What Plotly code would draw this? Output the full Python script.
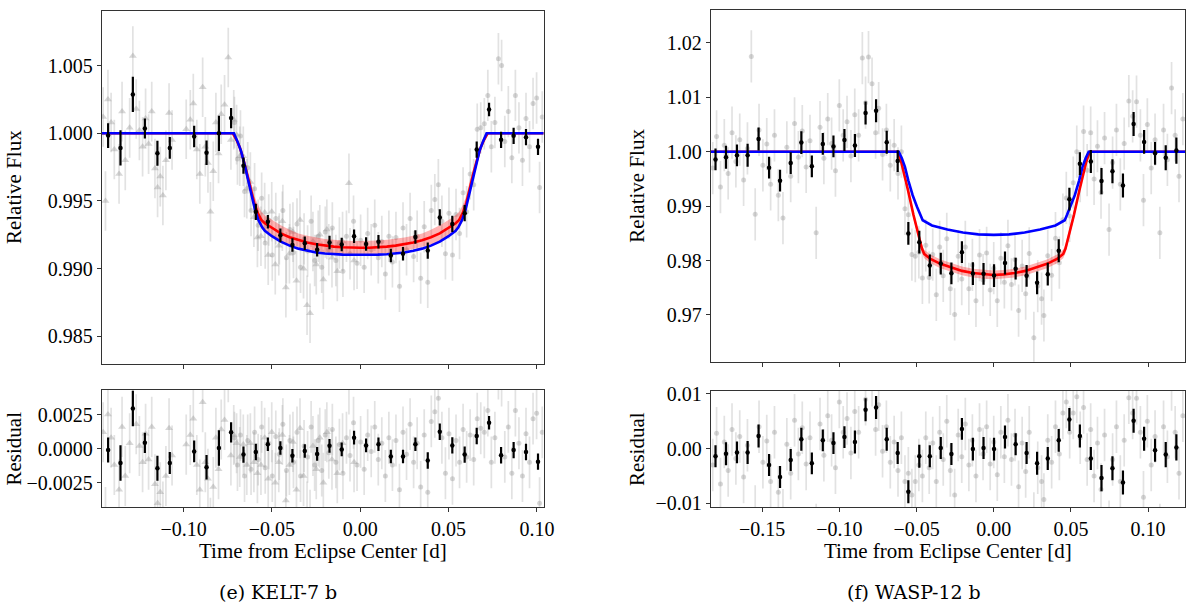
import numpy as np
import plotly.graph_objects as go

# ---------------- KELT-7 b (left) ----------------
# binned points
k7_x = [-0.1427, -0.1357, -0.1287, -0.1219, -0.1148, -0.1078, -0.0940, -0.0870, -0.0800, -0.0731,
        -0.0661, -0.0591, -0.0523, -0.0452, -0.0384, -0.0314, -0.0244, -0.0174, -0.0105, -0.0035,
        0.0033, 0.0103, 0.0173, 0.0242, 0.0312, 0.0382, 0.0450, 0.0521, 0.0591, 0.0659,
        0.0729, 0.0797, 0.0868, 0.0938, 0.1006]
k7_flux = [0.99983, 0.99892, 1.00287, 1.00036, 0.99852, 0.99892, 0.99976, 0.99856, 1.00000, 1.00112,
           0.99761, 0.99420, 0.99347, 0.99246, 0.99175, 0.99187, 0.99139, 0.99194, 0.99179, 0.99239,
           0.99182, 0.99199, 0.99098, 0.99110, 0.99234, 0.99134, 0.99378, 0.99330, 0.99410, 0.99880,
           1.00175, 0.99952, 0.99981, 0.99971, 0.99900]
k7_resid = [-0.00010, -0.00105, 0.00295, 0.00043, -0.00143, -0.00105, -0.00020, -0.00136, 0.00005, 0.00120,
            -0.00043, -0.00024, 0.00033, 0.00005, -0.00052, -0.00017, -0.00038, 0.00021, -0.00005, 0.00081,
            0.00024, 0.00033, -0.00057, -0.00057, 0.00033, -0.00086, 0.00124, 0.00024, -0.00043, 0.00093,
            0.00190, -0.00048, -0.00010, -0.00024, -0.00095]
k7_err = [0.00092, 0.00130, 0.00130, 0.00074, 0.00092, 0.00080, 0.00080, 0.00090, 0.00130, 0.00074,
          0.00060, 0.00060, 0.00050, 0.00050, 0.00050, 0.00050, 0.00050, 0.00050, 0.00050, 0.00050,
          0.00050, 0.00050, 0.00050, 0.00050, 0.00050, 0.00060, 0.00060, 0.00060, 0.00060, 0.00060,
          0.00050, 0.00060, 0.00060, 0.00060, 0.00060]

# unbinned points, first visit (triangles)
k7_tri_x = [-0.1455, -0.1442, -0.1428, -0.1410, -0.1392, -0.1365, -0.1348, -0.1330, -0.1305, -0.1287,
            -0.1268, -0.1250, -0.1232, -0.1215, -0.1198, -0.1180, -0.1162, -0.1147, -0.1132, -0.1117,
            -0.1100, -0.1082, -0.1065, -0.0985, -0.0962, -0.0945, -0.0925, -0.0908, -0.0892, -0.0877,
            -0.0862, -0.0848, -0.0832, -0.0817, -0.0802, -0.0787, -0.0768, -0.0747, -0.0732, -0.0716,
            -0.0700, -0.0682, -0.0662, -0.0642, -0.0622, -0.0602, -0.0582, -0.0562, -0.0541, -0.0521,
            -0.0501, -0.0481, -0.0461, -0.0441, -0.0421, -0.0401, -0.0381, -0.0361, -0.0341, -0.0321,
            -0.0301, -0.0284, -0.0268, -0.0249, -0.0229, -0.0209, -0.0189, -0.0160, -0.0130, -0.0100,
            -0.0064, -0.0035]
k7_tri_flux = [1.0012, 0.9950, 1.0025, 1.0008, 0.9988, 0.9970, 1.0016, 0.9980, 1.0004, 1.0057,
               1.0018, 1.0002, 0.9990, 1.0011, 0.9992, 1.0016, 0.9974, 0.9960, 0.9968, 0.9954,
               0.9980, 1.0015, 0.9995, 1.0003, 1.0010, 1.0022, 0.9988, 0.9970, 1.0034, 0.9990,
               0.9978, 0.9942, 0.9972, 1.0008, 0.9985, 1.0014, 1.0021, 1.0056, 0.9995, 1.0010,
               0.9999, 0.9983, 0.9983, 0.9959, 0.9964, 0.9938, 0.9923, 0.9924, 0.99415, 0.9910,
               0.9942, 0.9903, 0.9917, 0.9935, 0.9886, 0.9911, 0.9927, 0.9891, 0.9936, 0.9900,
               0.9873, 0.9867, 0.9920, 0.9903, 0.9925, 0.9892, 0.9929, 0.9908, 0.9898, 0.9920,
               0.9963, 0.9906]
k7_tri_resid = [0.0012, -0.0050, 0.0025, 0.0008, -0.0012, -0.0030, 0.0016, -0.0020, 0.0004, 0.0057,
                0.0018, 0.0002, -0.0010, 0.0011, -0.0008, 0.0016, -0.0026, -0.0040, -0.0032, -0.0046,
                -0.0020, 0.0015, -0.0005, 0.0003, 0.0010, 0.0022, -0.0012, -0.0030, 0.0034, -0.0010,
                -0.0022, -0.0058, -0.0028, 0.0008, -0.0015, 0.0014, 0.0021, 0.0056, -0.0005, 0.0010,
                0.0004, -0.0006, 0.0003, -0.0012, 0.0004, -0.0010, -0.0018, -0.0012, 0.0008, -0.0022,
                0.0012, -0.0025, -0.0010, 0.0010, -0.0038, -0.0012, 0.0005, -0.0030, 0.0015, -0.0020,
                -0.0046, -0.0052, 0.0002, -0.0015, 0.0008, -0.0025, 0.0012, -0.0008, -0.0018, 0.0004,
                0.0047, -0.0010]
k7_tri_err = 0.0022

# unbinned points, second visit (circles)
k7_cir_x = [-0.0712, -0.0695, -0.0678, -0.0655, -0.0637, -0.0618, -0.0598, -0.0578, -0.0558, -0.0538,
            -0.0518, -0.0498, -0.0478, -0.0458, -0.0438, -0.0418, -0.0398, -0.0378, -0.0358, -0.0338,
            -0.0318, -0.0298, -0.0278, -0.0258, -0.0238, -0.0218, -0.0198, -0.0178, -0.0158, -0.0138,
            -0.0118, -0.0098, -0.0078, -0.0058, -0.0038, -0.0018, 0.0002, 0.0022, 0.0042, 0.0062,
            0.0082, 0.0102, 0.0122, 0.0142, 0.0162, 0.0182, 0.0202, 0.0222, 0.0242, 0.0262,
            0.0282, 0.0302, 0.0322, 0.0342, 0.0362, 0.0382, 0.0402, 0.0422, 0.0442, 0.0462,
            0.0482, 0.0502, 0.0522, 0.0542, 0.0562, 0.0582, 0.0602, 0.0622, 0.0642, 0.0662,
            0.0682, 0.0702, 0.0722, 0.0742, 0.0762, 0.0782, 0.0800, 0.0818, 0.0838, 0.0858,
            0.0878, 0.0898, 0.0918, 0.0938, 0.0958, 0.0978, 0.0998, 0.1015, 0.1030]
k7_cir_flux = [1.0008, 0.9981, 0.9998, 0.9957, 0.99745, 0.9943, 0.9959, 0.9932, 0.9952, 0.9919,
               0.9936, 0.9910, 0.9937, 0.9922, 0.9943, 0.9908, 0.9929, 0.9912, 0.9933, 0.9901,
               0.9922, 0.9913, 0.9935, 0.9906, 0.9924, 0.9901, 0.9927, 0.9914, 0.9930, 0.9906,
               0.9919, 0.9898, 0.9924, 0.9911, 0.9935, 0.9904, 0.9921, 0.9901, 0.9926, 0.9914,
               0.9932, 0.9908, 0.9920, 0.9896, 0.9924, 0.9905, 0.9923, 0.9887, 0.9930, 0.9914,
               0.9937, 0.9909, 0.9924, 0.9893, 0.9931, 0.9890, 0.9943, 0.9951, 0.9962, 0.9935,
               0.9911, 0.9941, 0.9910, 0.9940, 0.9926, 0.9956, 0.9942, 0.9970, 0.9962, 1.0003,
               1.0004, 1.0007, 1.0028, 0.9990, 1.0008, 1.0055, 1.0050, 0.9994, 1.0016, 0.9982,
               1.0028, 1.0004, 0.9980, 1.0011, 0.9990, 1.0022, 1.0026, 0.9960, 1.0012]
k7_cir_resid = [0.0008, -0.0012, 0.0010, -0.0020, 0.0006, -0.0015, 0.0012, -0.0008, 0.0016, -0.0014,
                0.0004, -0.0020, 0.0009, -0.0004, 0.0018, -0.0016, 0.0006, -0.0010, 0.0012, -0.0020,
                0.0002, -0.0006, 0.0016, -0.0012, 0.0006, -0.0016, 0.0010, -0.0003, 0.0014, -0.0010,
                0.0003, -0.0018, 0.0008, -0.0005, 0.0019, -0.0012, 0.0005, -0.0015, 0.0010, -0.0002,
                0.0016, -0.0008, 0.0004, -0.0020, 0.0008, -0.0012, 0.0006, -0.0030, 0.0012, -0.0004,
                0.0018, -0.0010, 0.0004, -0.0028, 0.0010, -0.0032, 0.0020, 0.0027, 0.0037, 0.0008,
                -0.0018, 0.0011, -0.0022, 0.0006, -0.0010, 0.0014, -0.0006, 0.0010, -0.0008, 0.0022,
                0.0015, 0.0012, 0.0028, -0.0010, 0.0008, 0.0055, 0.0050, -0.0006, 0.0016, -0.0018,
                0.0028, 0.0004, -0.0020, 0.0011, -0.0010, 0.0022, 0.0026, -0.0040, 0.0012]
k7_cir_err = 0.0019

# transit models
k7_red_x = [-0.1463, -0.0721, -0.0700, -0.0680, -0.0660, -0.0640, -0.0620, -0.0600, -0.0580, -0.0560,
            -0.0540, -0.0500, -0.0450, -0.0400, -0.0350, -0.0300, -0.0250, -0.0200, -0.0150, -0.0100,
            -0.0050, 0.0000, 0.0050, 0.0100, 0.0150, 0.0200, 0.0250, 0.0300, 0.0350, 0.0400,
            0.0450, 0.0500, 0.0540, 0.0560, 0.0580, 0.0600, 0.0620, 0.0640, 0.0660, 0.0680,
            0.0700, 0.0721, 0.1038]
k7_red_y = [1.0, 1.0, 0.9995, 0.9989, 0.9980, 0.9970, 0.9960, 0.99484, 0.9941, 0.9936,
            0.99335, 0.9930, 0.9926, 0.99232, 0.9921, 0.99193, 0.9918, 0.9917, 0.99163, 0.99158,
            0.99155, 0.99154, 0.99155, 0.99158, 0.99163, 0.9917, 0.9918, 0.99193, 0.9921, 0.99232,
            0.9926, 0.9930, 0.99335, 0.9936, 0.9941, 0.99484, 0.9960, 0.9970, 0.9980, 0.9989,
            0.9995, 1.0, 1.0]
k7_red_w = [0, 0, 0.0001, 0.0002, 0.0003, 0.0004, 0.0005, 0.0005, 0.0006, 0.0006,
            0.0006, 0.0006, 0.0006, 0.00055, 0.0005, 0.0005, 0.0005, 0.0005, 0.0005, 0.0005,
            0.0005, 0.0005, 0.0005, 0.0005, 0.0005, 0.0005, 0.0005, 0.0005, 0.0005, 0.00055,
            0.0006, 0.0006, 0.0006, 0.0006, 0.0006, 0.0005, 0.0005, 0.0004, 0.0003, 0.0002,
            0.0001, 0, 0]
k7_blue_x = [-0.1463, -0.0715, -0.0695, -0.0675, -0.0655, -0.0635, -0.0615, -0.0595, -0.0575, -0.0555,
             -0.0540, -0.0500, -0.0450, -0.0400, -0.0350, -0.0300, -0.0250, -0.0200, -0.0150, -0.0100,
             -0.0050, 0.0000, 0.0050, 0.0100, 0.0150, 0.0200, 0.0250, 0.0300, 0.0350, 0.0400,
             0.0450, 0.0500, 0.0540, 0.0555, 0.0575, 0.0595, 0.0615, 0.0635, 0.0655, 0.0675,
             0.0695, 0.0715, 0.1038]
k7_blue_y = [1.0, 1.0, 0.9994, 0.9987, 0.9977, 0.9966, 0.9954, 0.9943, 0.99355, 0.99305,
             0.99280, 0.99240, 0.99200, 0.99170, 0.99148, 0.99132, 0.99120, 0.99112, 0.99107, 0.99104,
             0.99103, 0.99102, 0.99103, 0.99104, 0.99107, 0.99112, 0.99120, 0.99132, 0.99148, 0.99170,
             0.99200, 0.99240, 0.99280, 0.99305, 0.99355, 0.9943, 0.9954, 0.9966, 0.9977, 0.9987,
             0.9994, 1.0, 1.0]

# ---------------- WASP-12 b (right) ----------------
w12_x = [-0.1802, -0.1734, -0.1663, -0.1594, -0.1523, -0.1455, -0.1384, -0.1315, -0.1246, -0.1178,
         -0.1107, -0.1038, -0.0967, -0.0899, -0.0830, -0.0762, -0.0693, -0.0622, -0.0553, -0.0482,
         -0.0414, -0.0343, -0.0274, -0.0206, -0.0135, -0.0066, 0.0002, 0.0073, 0.0142, 0.0213,
         0.0281, 0.0350, 0.0421, 0.0490, 0.0558, 0.0629, 0.0698, 0.0769, 0.0837, 0.0906,
         0.0974, 0.1045, 0.1114, 0.1183]
w12_flux = [0.99857, 0.99898, 0.99934, 0.99934, 1.00233, 0.99707, 0.99468, 0.99791, 1.00167, 0.99731,
            1.00143, 1.00096, 1.00215, 1.00113, 1.00711, 1.00753, 1.00173, 0.99827, 0.98498, 0.98337,
            0.97910, 0.97945, 0.97766, 0.98154, 0.97760, 0.97755, 0.97724, 0.97955, 0.97850, 0.97720,
            0.97590, 0.97750, 0.98180, 0.99128, 0.99780, 0.99820, 0.99460, 0.99640, 0.99380, 1.00510,
            1.00180, 0.99970, 0.99890, 1.00020]
w12_resid = [-0.0014, -0.00095, -0.0007, -0.0007, 0.0023, -0.0030, -0.0052, -0.0021, 0.0017, -0.0027,
             0.0015, 0.0010, 0.0021, 0.0012, 0.0071, 0.0075, 0.0017, -0.0008, -0.0079, -0.0014,
             -0.0014, 0.0001, -0.0010, 0.0036, -0.0001, 0.0001, -0.0001, 0.0021, 0.0008, -0.0008,
             -0.0027, -0.0018, 0.0015, 0.0053, 0.0023, -0.0018, -0.0054, -0.0036, -0.0062, 0.0051,
             0.0018, -0.0003, -0.0011, 0.0002]
w12_err = [0.0020, 0.0021, 0.0020, 0.0021, 0.0021, 0.0020, 0.0020, 0.0020, 0.0021, 0.0020,
           0.0020, 0.0020, 0.0020, 0.0021, 0.0021, 0.0021, 0.0021, 0.0020, 0.0021, 0.0021,
           0.0020, 0.0020, 0.0020, 0.0020, 0.0021, 0.0020, 0.0021, 0.0021, 0.0020, 0.0020,
           0.0021, 0.0021, 0.0021, 0.0021, 0.0021, 0.0021, 0.0024, 0.0022, 0.0022, 0.0022,
           0.0022, 0.0021, 0.0023, 0.0024]

w12_gx = [-0.1820, -0.1795, -0.1770, -0.1745, -0.1720, -0.1695, -0.1670, -0.1645, -0.1620, -0.1595,
          -0.1570, -0.1545, -0.1520, -0.1495, -0.1470, -0.1445, -0.1420, -0.1395, -0.1365, -0.1340,
          -0.1315, -0.1290, -0.1265, -0.1240, -0.1215, -0.1190, -0.1150, -0.1125, -0.1100, -0.1075,
          -0.1050, -0.1025, -0.1000, -0.0975, -0.0950, -0.0925, -0.0900, -0.0875, -0.0851, -0.0830,
          -0.0811, -0.0788, -0.0765, -0.0745, -0.0720, -0.0695, -0.0670, -0.0645, -0.0620, -0.0598,
          -0.0575, -0.0553, -0.0530, -0.0508, -0.0485, -0.0462, -0.0440, -0.0418, -0.0395, -0.0372,
          -0.0350, -0.0327, -0.0304, -0.0281, -0.0253, -0.0230, -0.0207, -0.0184, -0.0161, -0.0138,
          -0.0115, -0.0092, -0.0069, -0.0046, -0.0023, 0.0000, 0.0023, 0.0046, 0.0069, 0.0092,
          0.0115, 0.0138, 0.0161, 0.0184, 0.0207, 0.0230, 0.0260, 0.0285, 0.0310, 0.0325,
          0.0350, 0.0375, 0.0400, 0.0425, 0.0448, 0.0470, 0.0492, 0.0515, 0.0538, 0.0560,
          0.0582, 0.0605, 0.0628, 0.0650, 0.0672, 0.0695, 0.0718, 0.0747, 0.0770, 0.0795,
          0.0820, 0.0845, 0.0875, 0.0900, 0.0925, 0.0950, 0.0970, 0.0995, 0.1020, 0.1045,
          0.1076, 0.1100, 0.1125, 0.1152, 0.1175, 0.1200, 0.1225]
w12_gflux = [0.9970, 1.0028, 0.9935, 1.0012, 0.9960, 1.0035, 0.9982, 1.0022, 0.9948, 1.0006,
             1.0175, 0.9885, 1.0040, 0.9975, 1.0014, 0.9940, 1.0030, 0.9920, 0.9878, 1.0008,
             0.9955, 1.0052, 0.9990, 1.0038, 0.9972, 1.0020, 0.9851, 1.0045, 0.9988, 1.0060,
             1.0015, 0.9965, 1.0085, 1.0030, 1.0055, 0.9992, 1.0068, 1.0030, 1.0172, 1.0090,
             1.0174, 1.0125, 1.0035, 1.0080, 0.9995, 1.0040, 0.9975, 1.0012, 0.9960, 1.0000,
             0.9895, 0.9884, 0.9811, 0.9808, 0.9815, 0.9768, 0.9828, 0.9769, 0.9811, 0.9737,
             0.9825, 0.9772, 0.9840, 0.9748, 0.9701, 0.9808, 0.9766, 0.9825, 0.9748, 0.9792,
             0.9726, 0.9810, 0.9764, 0.9814, 0.9746, 0.9786, 0.9726, 0.9804, 0.9760, 0.9827,
             0.9756, 0.9802, 0.9708, 0.9790, 0.9739, 0.9813, 0.9658, 0.9753, 0.9730, 0.9699,
             0.9809, 0.9773, 0.9841, 0.9796, 0.9875, 0.9915, 0.9882, 0.9943, 1.0000, 0.9955,
             1.0037, 0.9966, 1.0035, 0.9950, 1.0010, 0.9925, 1.0025, 0.9857, 0.9980, 1.0040,
             0.9940, 1.0015, 1.0093, 1.0065, 1.0092, 1.0030, 0.9911, 1.0050, 0.9970, 1.0022,
             0.9851, 1.0040, 0.9985, 1.0117, 1.0030, 0.9955, 1.0060]
w12_gresid = [-0.0030, 0.0028, -0.0065, 0.0012, -0.0040, 0.0035, -0.0018, 0.0022, -0.0052, 0.0006,
              0.0175, -0.0115, 0.0040, -0.0025, 0.0014, -0.0060, 0.0030, -0.0080, -0.0122, 0.0008,
              -0.0045, 0.0052, -0.0010, 0.0038, -0.0028, 0.0020, -0.0149, 0.0045, -0.0012, 0.0060,
              0.0015, -0.0035, 0.0085, 0.0030, 0.0055, -0.0008, 0.0068, 0.0030, 0.0172, 0.0090,
              0.0174, 0.0125, 0.0035, 0.0080, -0.0005, 0.0040, -0.0025, 0.0012, -0.0040, 0.0020,
              -0.0060, -0.0045, -0.0085, -0.0060, -0.0030, -0.0050, 0.0020, -0.0035, 0.0010, -0.0060,
              0.0030, -0.0020, 0.0050, -0.0040, -0.0085, 0.0025, -0.0015, 0.0045, -0.0030, 0.0015,
              -0.0050, 0.0035, -0.0010, 0.0040, -0.0028, 0.0012, -0.0048, 0.0030, -0.0015, 0.0052,
              -0.0020, 0.0025, -0.0070, 0.0010, -0.0042, 0.0030, -0.0128, -0.0035, -0.0060, -0.0093,
              0.0015, -0.0025, 0.0040, -0.0010, 0.0065, 0.0085, 0.0030, 0.0065, 0.0095, 0.0020,
              0.0075, -0.0020, 0.0035, -0.0050, 0.0010, -0.0075, 0.0025, -0.0143, -0.0020, 0.0040,
              -0.0060, 0.0015, 0.0093, 0.0065, 0.0092, 0.0030, -0.0089, 0.0050, -0.0030, 0.0022,
              -0.0149, 0.0040, -0.0015, 0.0117, 0.0030, -0.0045, 0.0060]
w12_gerr = 0.0048

w12_red_x = [-0.1833, -0.0622, -0.0600, -0.0580, -0.0555, -0.0520, -0.0490, -0.0465, -0.0450, -0.0410,
             -0.0345, -0.0275, -0.0205, -0.0135, -0.0065, 0.0000, 0.0065, 0.0135, 0.0205, 0.0275,
             0.0345, 0.0410, 0.0450, 0.0465, 0.0490, 0.0520, 0.0555, 0.0580, 0.0600, 0.0622, 0.1239]
w12_red_y = [1.0, 1.0, 0.9982, 0.9960, 0.9929, 0.9884, 0.9850, 0.9822, 0.9812, 0.9803,
             0.9794, 0.9787, 0.9781, 0.9777, 0.97745, 0.97735, 0.97745, 0.9777, 0.9781, 0.9787,
             0.9794, 0.9803, 0.9812, 0.9822, 0.9850, 0.9884, 0.9929, 0.9960, 0.9982, 1.0, 1.0]
w12_red_w = [0, 0, 0.0002, 0.0004, 0.0006, 0.0007, 0.0008, 0.0008, 0.0008, 0.0008,
             0.0008, 0.0008, 0.0008, 0.0008, 0.0008, 0.0008, 0.0008, 0.0008, 0.0008, 0.0008,
             0.0008, 0.0008, 0.0008, 0.0008, 0.0008, 0.0007, 0.0006, 0.0004, 0.0002, 0, 0]
w12_blue_x = [-0.1833, -0.0615, -0.0595, -0.0575, -0.0553, -0.0525, -0.0497, -0.0475, -0.0460, -0.0400,
              -0.0300, -0.0200, -0.0100, 0.0000, 0.0100, 0.0200, 0.0300, 0.0400, 0.0460, 0.0475,
              0.0497, 0.0525, 0.0553, 0.0575, 0.0595, 0.0615, 0.1239]
w12_blue_y = [1.0, 1.0, 0.9988, 0.9972, 0.9947, 0.9920, 0.9899, 0.9884, 0.9874, 0.98645,
              0.9857, 0.98515, 0.9848, 0.98471, 0.9848, 0.98515, 0.9857, 0.98645, 0.9874, 0.9884,
              0.9899, 0.9920, 0.9947, 0.9972, 0.9988, 1.0, 1.0]

GREY_BAR = 'rgba(165,165,165,0.32)'
GREY_PT = 'rgba(140,140,140,0.35)'
SERIF = 'Liberation Serif'

fig = go.Figure()


def grey(x, y, err, sym, size, xa, ya):
    fig.add_trace(go.Scatter(
        x=x, y=y, mode='markers', xaxis=xa, yaxis=ya, showlegend=False,
        marker=dict(symbol=sym, size=size, color=GREY_PT, line_width=0),
        error_y=dict(type='constant', value=err, color=GREY_BAR, thickness=1.7, width=0)))


def binned(x, y, err, xa, ya):
    fig.add_trace(go.Scatter(
        x=x, y=y, mode='markers', xaxis=xa, yaxis=ya, showlegend=False,
        marker=dict(size=4.5, color='black'),
        error_y=dict(type='data', array=err, color='black', thickness=2.2, width=0)))


def models(rx, ry, rw, bx, by, xa, ya):
    ry = np.array(ry)
    rw = np.array(rw)
    fig.add_trace(go.Scatter(
        x=list(rx) + list(rx)[::-1], y=list(ry + rw) + list(ry - rw)[::-1],
        fill='toself', fillcolor='rgba(255,0,0,0.3)', line_width=0, mode='lines',
        xaxis=xa, yaxis=ya, showlegend=False, hoverinfo='skip'))
    fig.add_trace(go.Scatter(x=rx, y=ry, mode='lines', line=dict(color='#ff0000', width=2.6),
                             xaxis=xa, yaxis=ya, showlegend=False))
    fig.add_trace(go.Scatter(x=bx, y=by, mode='lines', line=dict(color='#0000ff', width=2.6),
                             xaxis=xa, yaxis=ya, showlegend=False))


# left top / bottom
grey(k7_tri_x, k7_tri_flux, k7_tri_err, 'triangle-up', 7, 'x', 'y')
grey(k7_cir_x, k7_cir_flux, k7_cir_err, 'circle', 5, 'x', 'y')
models(k7_red_x, k7_red_y, k7_red_w, k7_blue_x, k7_blue_y, 'x', 'y')
binned(k7_x, k7_flux, k7_err, 'x', 'y')
grey(k7_tri_x, k7_tri_resid, k7_tri_err, 'triangle-up', 7, 'x2', 'y2')
grey(k7_cir_x, k7_cir_resid, k7_cir_err, 'circle', 5, 'x2', 'y2')
binned(k7_x, k7_resid, k7_err, 'x2', 'y2')

# right top / bottom
grey(w12_gx, w12_gflux, w12_gerr, 'circle', 5, 'x3', 'y3')
models(w12_red_x, w12_red_y, w12_red_w, w12_blue_x, w12_blue_y, 'x3', 'y3')
binned(w12_x, w12_flux, w12_err, 'x3', 'y3')
grey(w12_gx, w12_gresid, w12_gerr, 'circle', 5, 'x4', 'y4')
binned(w12_x, w12_resid, w12_err, 'x4', 'y4')

W, H = 1198, 608


def px(v):
    return v / W


def py(v):
    return 1 - v / H


axis_common = dict(showline=True, linecolor='#333333', linewidth=1, mirror=True, ticks='outside',
                   ticklen=4, tickwidth=1, tickcolor='#333333', showgrid=False, zeroline=False,
                   tickfont=dict(family=SERIF, size=20, color='black'))

fig.update_layout(
    width=W, height=H, margin=dict(l=0, r=0, t=0, b=0),
    paper_bgcolor='white', plot_bgcolor='white', showlegend=False,
    xaxis=dict(axis_common, domain=[px(102.7), px(548.7)], range=[-0.1463, 0.1038], anchor='y',
               tickvals=[-0.10, -0.05, 0.0, 0.05, 0.10], showticklabels=False),
    yaxis=dict(axis_common, domain=[py(364.7), py(2.7)], range=[0.98298, 1.00906], anchor='x',
               tickvals=[0.985, 0.990, 0.995, 1.000, 1.005], tickformat='.3f'),
    xaxis2=dict(axis_common, domain=[px(102.7), px(548.7)], range=[-0.1463, 0.1038], anchor='y2',
                tickvals=[-0.10, -0.05, 0.0, 0.05, 0.10], tickformat='.2f'),
    yaxis2=dict(axis_common, domain=[py(512), py(391.7)], range=[-0.0043, 0.0043], anchor='x2',
                tickvals=[-0.0025, 0.0, 0.0025], tickformat='.4f'),
    xaxis3=dict(axis_common, domain=[px(717.3), px(1196)], range=[-0.1833, 0.1239], anchor='y3',
                tickvals=[-0.15, -0.10, -0.05, 0.0, 0.05, 0.10], showticklabels=False),
    yaxis3=dict(axis_common, domain=[py(362.7), py(1.7)], range=[0.9614, 1.0261], anchor='x3',
                tickvals=[0.97, 0.98, 0.99, 1.00, 1.01, 1.02], tickformat='.2f'),
    xaxis4=dict(axis_common, domain=[px(717.3), px(1196)], range=[-0.1833, 0.1239], anchor='y4',
                tickvals=[-0.15, -0.10, -0.05, 0.0, 0.05, 0.10], tickformat='.2f'),
    yaxis4=dict(axis_common, domain=[py(511.7), py(392.3)], range=[-0.0107, 0.0106], anchor='x4',
                tickvals=[-0.01, 0.0, 0.01], tickformat='.2f'),
)

label_font = dict(family=SERIF, size=21, color='black')
cap_font = dict(family='DejaVu Serif', size=19, color='black')
notes = [
    ('Relative Flux', 14, 183.7, -90, label_font),
    ('Residual', 14, 451.8, -90, label_font),
    ('Relative Flux', 643, 182.2, -90, label_font),
    ('Residual', 643, 452, -90, label_font),
    ('Time from Eclipse Center [d]', 325.7, 557, 0, label_font),
    ('Time from Eclipse Center [d]', 956.7, 557, 0, label_font),
    ('(e) KELT-7 b', 281, 599, 0, cap_font),
    ('(f) WASP-12 b', 922, 599, 0, cap_font),
]
for text, x, y, ang, font in notes:
    fig.add_annotation(text=text, x=px(x), y=py(y), xref='paper', yref='paper', showarrow=False,
                       textangle=ang, font=font, xanchor='center', yanchor='middle')

fig.write_html("out.html", config={'displayModeBar': False},
               post_script="document.body.style.margin='0px';")
